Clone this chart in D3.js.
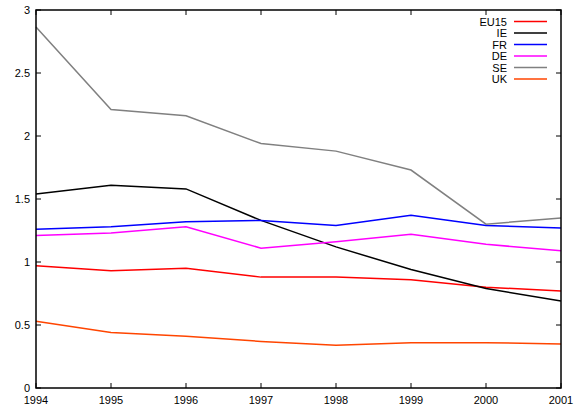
<!DOCTYPE html>
<html><head><meta charset="utf-8">
<script src="https://cdn.jsdelivr.net/npm/d3@7"></script>
<style>body{margin:0;background:#fff}svg{display:block}text{font-family:"Liberation Sans",Arial,sans-serif;font-size:11px;fill:#000}</style>
</head><body>
<svg id="c" width="584" height="410"></svg>
<script>
const years = [1994,1995,1996,1997,1998,1999,2000,2001];
const seriesNames = ["EU15","IE","FR","DE","SE","UK"];
const EU15 = [0.97,0.93,0.95,0.88,0.88,0.86,0.80,0.77];
const IE   = [1.54,1.61,1.58,1.33,1.12,0.94,0.79,0.69];
const FR   = [1.26,1.28,1.32,1.33,1.29,1.37,1.29,1.27];
const DE   = [1.21,1.23,1.28,1.11,1.16,1.22,1.14,1.09];
const SE   = [2.865,2.21,2.16,1.94,1.88,1.73,1.30,1.35];
const UK   = [0.53,0.44,0.41,0.37,0.34,0.36,0.36,0.35];
const yTicks = [0,0.5,1,1.5,2,2.5,3];
const yTickLabels = ["0","0.5","1","1.5","2","2.5","3"];
const colors = ["#ff0000","#000000","#0000ff","#ff00ff","#808080","#ff4500"];
const values = [EU15,IE,FR,DE,SE,UK];

const L=36,R=561,T=10,B=388;
const svg=d3.select("#c");
const x=d3.scaleLinear().domain([1994,2001]).range([L,R]);
const y=d3.scaleLinear().domain([0,3]).range([B,T]);

// ticks (mirrored, inward)
const tl=5;
const g=svg.append("g").attr("stroke","#000").attr("stroke-width",1);
years.forEach(v=>{
  g.append("line").attr("x1",x(v)).attr("x2",x(v)).attr("y1",B).attr("y2",B-tl);
  g.append("line").attr("x1",x(v)).attr("x2",x(v)).attr("y1",T).attr("y2",T+tl);
});
yTicks.forEach(v=>{
  g.append("line").attr("x1",L).attr("x2",L+tl).attr("y1",y(v)).attr("y2",y(v));
  g.append("line").attr("x1",R).attr("x2",R-tl).attr("y1",y(v)).attr("y2",y(v));
});
years.forEach(v=>{
  svg.append("text").attr("x",x(v)).attr("y",B+16).attr("text-anchor","middle").text(v);
});
yTicks.forEach((v,i)=>{
  svg.append("text").attr("x",L-6).attr("y",y(v)+4).attr("text-anchor","end").text(yTickLabels[i]);
});

const line=d3.line().x((d,i)=>x(years[i])).y(d=>y(d));
values.forEach((vals,k)=>{
  svg.append("path").datum(vals).attr("d",line).attr("fill","none")
    .attr("stroke",colors[k]).attr("stroke-width",1.5);
});

// legend
seriesNames.forEach((n,k)=>{
  const yy=21.5+k*11.5;
  svg.append("text").attr("x",507).attr("y",yy+4).attr("text-anchor","end").text(n);
  svg.append("line").attr("x1",514).attr("x2",547).attr("y1",yy).attr("y2",yy)
    .attr("stroke",colors[k]).attr("stroke-width",1.5);
});

svg.append("rect").attr("x",L).attr("y",T).attr("width",R-L).attr("height",B-T)
  .attr("fill","none").attr("stroke","#000").attr("stroke-width",1.5);
</script>
</body></html>
